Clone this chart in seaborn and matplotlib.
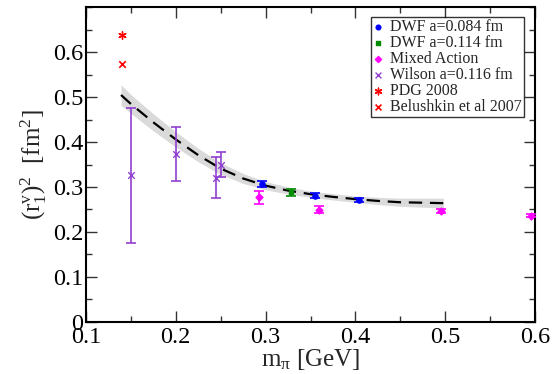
import numpy as np
import pandas as pd
import matplotlib
matplotlib.use("Agg")
import matplotlib.pyplot as plt
import seaborn as sns
from matplotlib.ticker import MultipleLocator

# ---- data ----
dwf084_m = [0.296, 0.355, 0.404]
dwf084_r = [0.306, 0.281, 0.271]
dwf084_e = [0.007, 0.005, 0.004]

dwf114_m = [0.328]
dwf114_r = [0.288]
dwf114_e = [0.008]

mixed_m = [0.293, 0.360, 0.495, 0.595]
mixed_r = [0.277, 0.249, 0.246, 0.236]
mixed_e = [0.015, 0.008, 0.004, 0.003]

wilson_m = [0.150, 0.200, 0.245, 0.250]
wilson_r = [0.326, 0.374, 0.321, 0.350]
wilson_e = [0.150, 0.060, 0.046, 0.028]

pdg_m = [0.1396]
pdg_r = [0.638]
bel_m = [0.1396]
bel_r = [0.574]

fit_m = [0.139, 0.15, 0.175, 0.2, 0.225, 0.25, 0.275, 0.3, 0.325, 0.35,
         0.375, 0.4, 0.425, 0.45, 0.475, 0.498]
fit_r = [0.505, 0.485, 0.444, 0.406, 0.371, 0.341, 0.319, 0.303, 0.292,
         0.284, 0.278, 0.273, 0.269, 0.266, 0.265, 0.264]
fit_err = [0.023, 0.021, 0.019, 0.017, 0.015, 0.013, 0.011, 0.009, 0.008,
           0.007, 0.007, 0.007, 0.008, 0.009, 0.010, 0.011]

xticks = [0.1, 0.2, 0.3, 0.4, 0.5, 0.6]
yticks = [0, 0.1, 0.2, 0.3, 0.4, 0.5, 0.6]

# ---- style ----
sns.set_style("ticks")
plt.rcParams['font.family'] = ['Liberation Serif', 'DejaVu Serif']
plt.rcParams['mathtext.fontset'] = 'custom'
plt.rcParams['mathtext.rm'] = 'Liberation Serif'
plt.rcParams['mathtext.it'] = 'Liberation Serif:italic'

fig = plt.figure(figsize=(5.53, 3.74), dpi=100)
ax = fig.add_axes([0.1555, 0.140, 0.812, 0.840])

fit_df = pd.DataFrame({"m": fit_m, "r": fit_r, "e": fit_err})
ax.fill_between(fit_df["m"], fit_df["r"] - fit_df["e"], fit_df["r"] + fit_df["e"],
                color="#dadada", lw=0, zorder=1)
sns.lineplot(data=fit_df, x="m", y="r", ax=ax, color="black", lw=1.6,
             dashes=False, zorder=2)
ax.lines[-1].set_dashes([6, 3.5])

def series(m, r, e, color, marker, ms, label, cap):
    ax.errorbar(m, r, yerr=e, fmt="none", ecolor=color, elinewidth=1.2,
                capsize=cap, capthick=1.2, zorder=3)
    sns.scatterplot(x=m, y=r, ax=ax, color=color, marker=marker, s=ms,
                    edgecolor=color if marker not in ("x",) else None,
                    linewidth=1.0, label=label, zorder=4)

series(dwf084_m, dwf084_r, dwf084_e, "#0000ff", "o", 14, "DWF a=0.084 fm", 3.6)
series(dwf114_m, dwf114_r, dwf114_e, "#008b00", "s", 12, "DWF a=0.114 fm", 3.6)
series(mixed_m, mixed_r, mixed_e, "#ff00ff", "D", 12, "Mixed Action", 3.6)
series(wilson_m, wilson_r, wilson_e, "#9040d0", "x", 22, "Wilson a=0.116 fm", 3.3)
sns.scatterplot(x=pdg_m, y=pdg_r, ax=ax, color="#ff0000", marker=(6, 2, 0),
                s=28, linewidth=1.0, edgecolor="#ff0000", label="PDG 2008", zorder=4)
sns.scatterplot(x=bel_m, y=bel_r, ax=ax, color="#ff0000", marker="x",
                s=22, linewidth=1.2, label="Belushkin et al 2007", zorder=4)

ax.set_xlim(0.1, 0.6)
ax.set_ylim(0, 0.7)
ax.set_xticks(xticks)
ax.set_xticklabels([f"{v:g}" for v in xticks])
ax.set_yticks(yticks)
ax.set_yticklabels([f"{v:g}" for v in yticks])
ax.xaxis.set_minor_locator(MultipleLocator(0.05))
ax.yaxis.set_minor_locator(MultipleLocator(0.05))
ax.tick_params(which="both", direction="in", top=True, right=True,
               labelsize=17.5, width=1.0, colors="#333333", labelcolor="black")
ax.tick_params(which="major", length=8)
ax.tick_params(which="minor", length=4)
ax.tick_params(axis="x", which="major", pad=4)
ax.tick_params(axis="y", which="major", pad=2)
for s in ax.spines.values():
    s.set_linewidth(1.5)
    s.set_color("black")

ax.set_xlabel(r"m$_{\mathrm{\pi}}$ [GeV]", fontsize=18, labelpad=-1)
ax.set_ylabel(r"$(\mathrm{r}_1^{\mathrm{v}})^2$  [fm$^2$]", fontsize=18, labelpad=3)

leg = ax.legend(loc="upper right", bbox_to_anchor=(0.985, 0.985), fontsize=11.5,
                frameon=True, fancybox=False, edgecolor="black",
                handlelength=0.6, handletextpad=0.45, borderpad=0.12,
                labelspacing=0.0, borderaxespad=0.3, markerscale=0.9)
leg.get_frame().set_linewidth(1.0)

fig.savefig("out.png", dpi=100)
